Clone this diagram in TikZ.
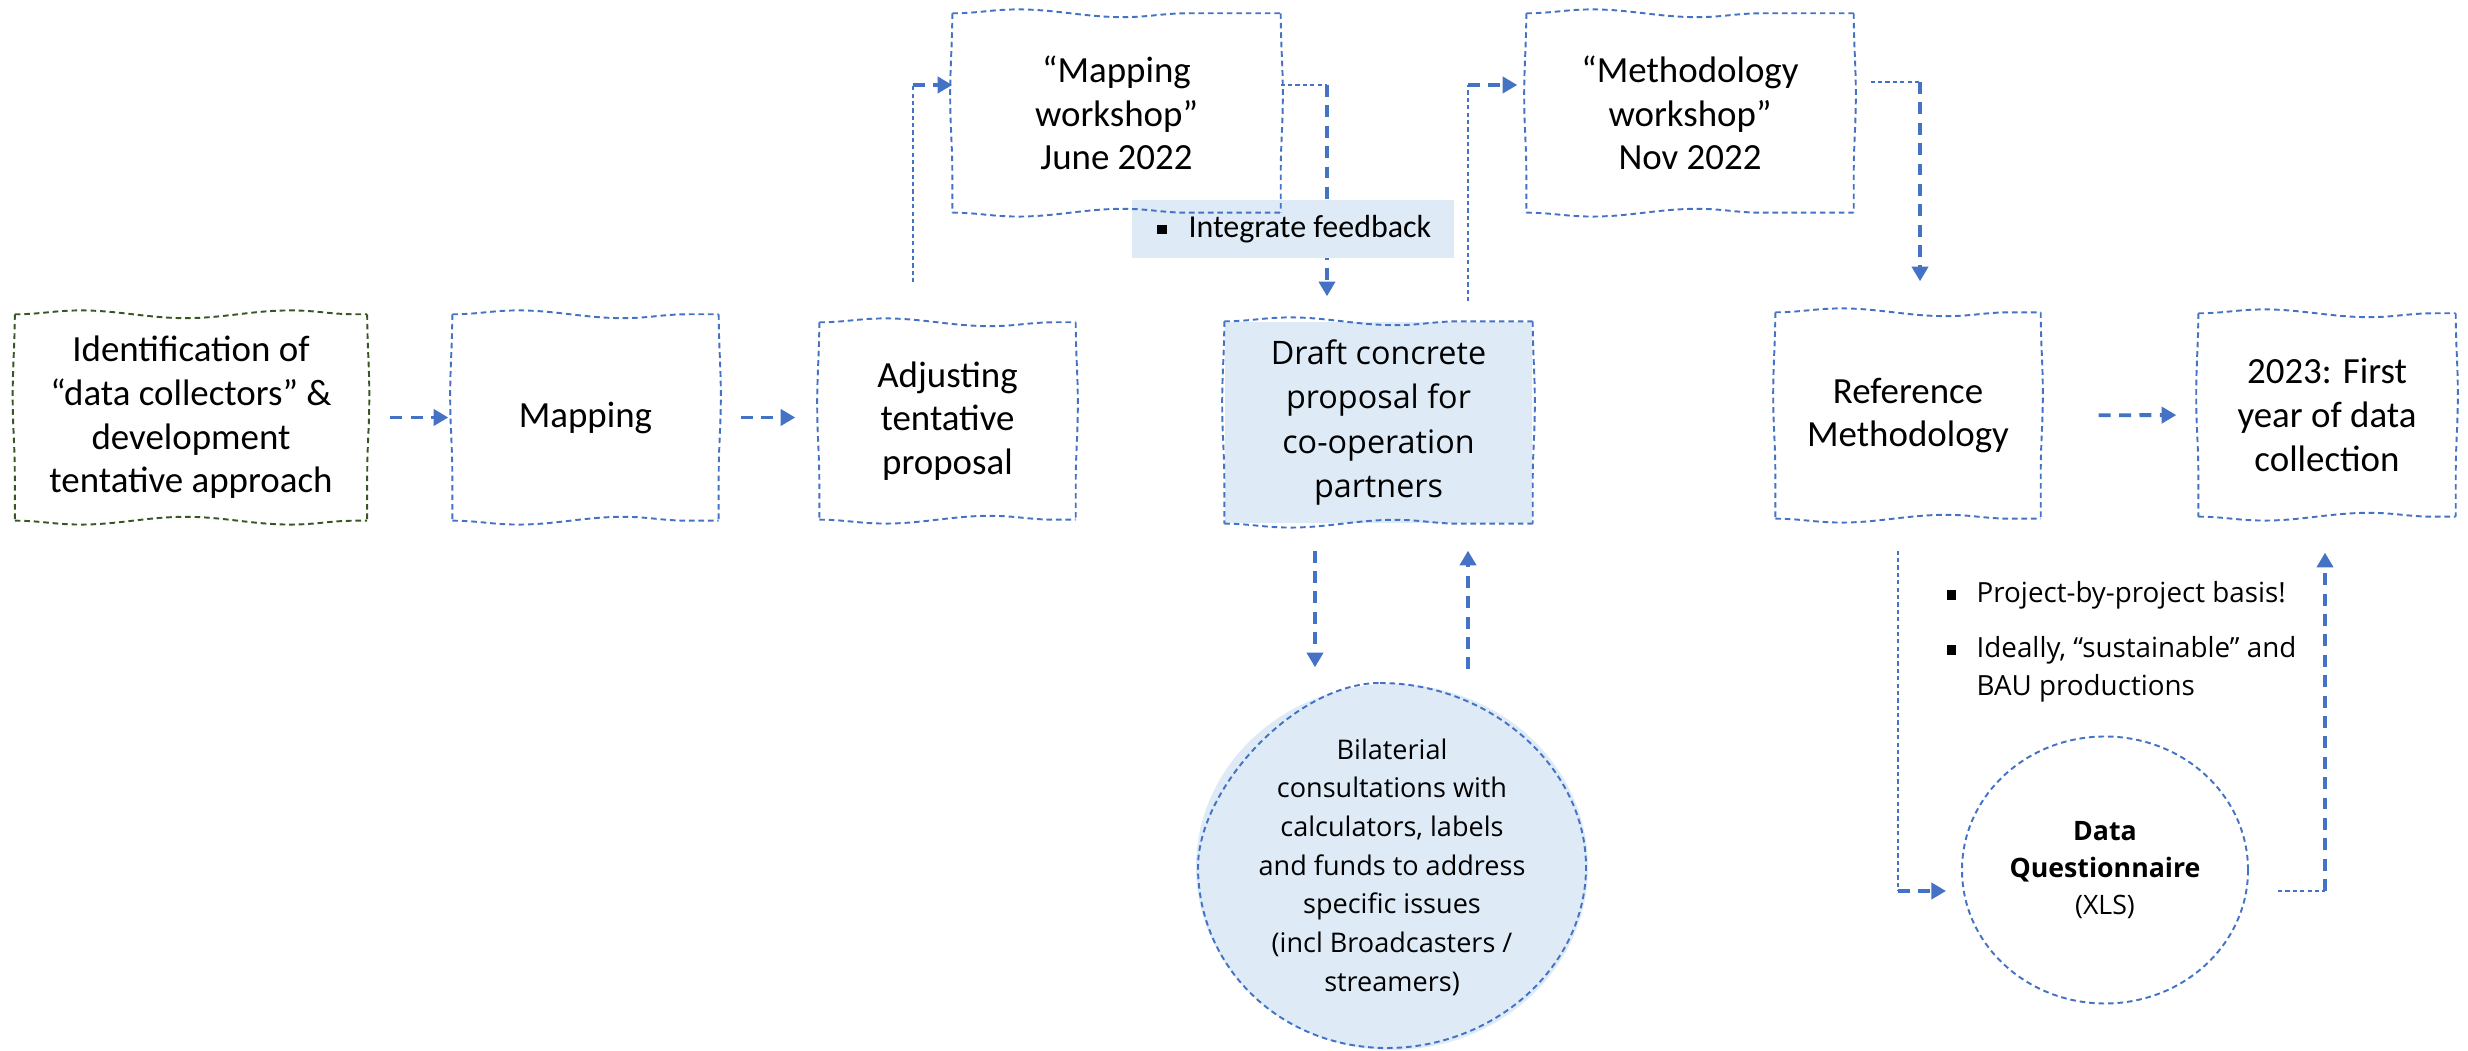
\documentclass[tikz,border=0pt]{standalone}
\usepackage{fontspec}
\setmainfont{Carlito}
\newfontfamily\segoe{Open Sans}
\usetikzlibrary{arrows.meta,decorations.pathmorphing,shapes.geometric}
\definecolor{accent}{HTML}{4472C4}
\definecolor{olive}{HTML}{375623}
\definecolor{paleblue}{HTML}{DEEBF7}
\newcommand{\sqbullet}{\rule[0.9pt]{2.7pt}{2.7pt}}
\newcommand{\wavyframe}[2][accent]{%
    \draw[#1, edgeline, decorate, decoration={snake, amplitude=1.1pt, segment length=2.1cm}] (#2.north west) -- (#2.north east);
    \draw[#1, edgeline, decorate, decoration={snake, amplitude=1.1pt, segment length=2.1cm, mirror}] (#2.south west) -- (#2.south east);
    \draw[#1, edgeline, decorate, decoration={snake, amplitude=0.6pt, segment length=2.6cm}] (#2.north east) -- (#2.south east);
    \draw[#1, edgeline, decorate, decoration={snake, amplitude=0.6pt, segment length=2.6cm, mirror}] (#2.north west) -- (#2.south west);
}

\begin{document}
\begin{tikzpicture}[
    edgeline/.style={line width=0.55pt, dash pattern=on 1.6pt off 1.1pt},
    wbox/.style={align=center, inner sep=0pt, font=\fontsize{10.5}{12.4}\selectfont},
    arr/.style={draw=accent, line width=1.1pt, dash pattern=on 3.4pt off 2.4pt,
        -{Triangle[length=4.2pt,width=4.6pt]}},
    link/.style={draw=accent, line width=0.45pt, dash pattern=on 1.2pt off 0.9pt},
    segtext/.style={font=\segoe\fontsize{7.7}{11}\selectfont, align=center}
]
    \useasboundingbox (0,0) rectangle (24.68,10.51);

    \node[wbox, minimum width=3.51cm, minimum height=2.05cm] (ident) at (1.91,6.335) {Identification of\\“data collectors” \&\\development\\tentative approach};
    \node[wbox, minimum width=2.65cm, minimum height=2.05cm] (mapping) at (5.855,6.335) {Mapping};
    \node[wbox, minimum width=2.55cm, minimum height=1.96cm] (adjust) at (9.475,6.30) {Adjusting\\tentative\\proposal};
    \node[wbox, fill=paleblue, minimum width=3.07cm, minimum height=2.01cm, font=\segoe\fontsize{9.2}{12.7}\selectfont] (draft) at (13.785,6.285) {Draft concrete\\proposal for\\co-operation\\partners};
    \node[wbox, minimum width=2.64cm, minimum height=2.05cm] (refm) at (19.08,6.355) {Reference\\Methodology};
    \node[wbox, minimum width=2.56cm, minimum height=2.02cm] (first) at (23.27,6.36) {2023: First\\year of data\\collection};
    \node[wbox, minimum width=3.27cm, minimum height=1.98cm] (mws) at (11.165,9.38) {“Mapping\\workshop”\\June 2022};
    \node[wbox, minimum width=3.26cm, minimum height=1.98cm] (metws) at (16.90,9.38) {“Methodology\\workshop”\\Nov 2022};
    \wavyframe[olive]{ident}
    \wavyframe{mapping}
    \wavyframe{adjust}
    \wavyframe{draft}
    \wavyframe{refm}
    \wavyframe{first}
    \wavyframe{metws}

    \node[ellipse, fill=paleblue, minimum width=3.92cm, minimum height=3.66cm, inner sep=0pt, segtext] (bubble) at (13.92,1.84) {Bilaterial\\consultations with\\calculators, labels\\and funds to address\\specific issues\\(incl Broadcasters /\\streamers)};
    \draw[accent, edgeline] (13.80,3.68) .. controls (14.90,3.68) and (15.86,2.84) .. (15.86,1.84)
        .. controls (15.86,0.84) and (14.94,0.03) .. (13.87,0.03)
        .. controls (12.80,0.03) and (11.98,0.84) .. (11.98,1.84)
        .. controls (11.98,2.62) and (12.95,3.68) .. (13.80,3.68) -- cycle;
    \node[ellipse, draw=accent, edgeline, minimum width=2.86cm, minimum height=2.67cm, inner sep=0pt, font=\segoe\fontsize{7.6}{10.5}\selectfont, align=center] (dq) at (21.05,1.81) {\textbf{Data}\\\textbf{Questionnaire}\\(XLS)};

    \node[anchor=base west, inner sep=0pt, font=\segoe\fontsize{7.9}{10.8}\selectfont] (note1) at (19.46,4.48) {\begin{tabular}[t]{@{}l@{\hspace{2.05mm}}l@{}}\sqbullet & Project-by-project basis!\end{tabular}};
    \node[anchor=base west, inner sep=0pt, font=\segoe\fontsize{7.9}{10.8}\selectfont] (note2) at (19.46,3.93) {\begin{tabular}[t]{@{}l@{\hspace{2.05mm}}l@{}}\sqbullet & Ideally, “sustainable” and\\ & BAU productions\end{tabular}};

    \coordinate (k1) at (9.13,9.66);
    \coordinate (k2) at (13.27,9.66);
    \coordinate (k3) at (14.68,9.66);
    \coordinate (k4) at (19.20,9.69);
    \coordinate (k5) at (13.15,0);
    \coordinate (k6) at (14.68,0);
    \coordinate (k7) at (18.98,1.60);
    \coordinate (k8) at (23.25,1.60);

    \draw[arr, shorten <=2.3mm, shorten >=0.4mm] (ident.east) -- (mapping.west);
    \draw[arr, shorten <=2.2mm, shorten >=2.4mm] (mapping.east) -- (mapping.east -| adjust.west);
    \draw[arr, shorten <=5.8mm, shorten >=2.2mm] (refm.east) -- (first.west);

    \draw[link] ([yshift=4mm]adjust.north -| k1) -- (k1);
    \draw[arr] (k1) -- (k1 -| mws.west);
    \draw[link] (k2 -| mws.east) -- (k2);
    \draw[arr, shorten >=2.5mm] (k2) -- (k2 |- draft.north);
    \draw[link] ([yshift=2mm]draft.north -| k3) -- (k3);
    \draw[arr, shorten >=0.9mm] (k3) -- (k3 -| metws.west);
    \draw[link, shorten <=1.7mm] (k4 -| metws.east) -- (k4);
    \draw[arr, shorten >=3.1mm] (k4) -- (k4 |- refm.north);

    \draw[arr, shorten <=2.7mm, shorten >=1.6mm] (draft.south -| k5) -- (bubble.north -| k5);
    \draw[arr, shorten <=1.4mm, shorten >=2.7mm] (bubble.north -| k6) -- (draft.south -| k6);

    \draw[link, shorten <=3.2mm] (refm.south -| k7) -- (k7);
    \draw[arr, shorten >=1.5mm] (k7) -- (k7 -| dq.west);
    \draw[link, shorten <=2.9mm] (k8 -| dq.east) -- (k8);
    \draw[arr, shorten >=3.6mm] (k8) -- (k8 |- first.south);

    \node[fill=paleblue, minimum width=3.22cm, minimum height=0.58cm, inner sep=0pt, font=\fontsize{9.1}{11}\selectfont] (feedback) at (12.93,8.22) {\makebox[3.22cm][l]{\hspace{2.5mm}\sqbullet\hspace{2.2mm}Integrate feedback}};
    \wavyframe{mws}
\end{tikzpicture}
\end{document}
